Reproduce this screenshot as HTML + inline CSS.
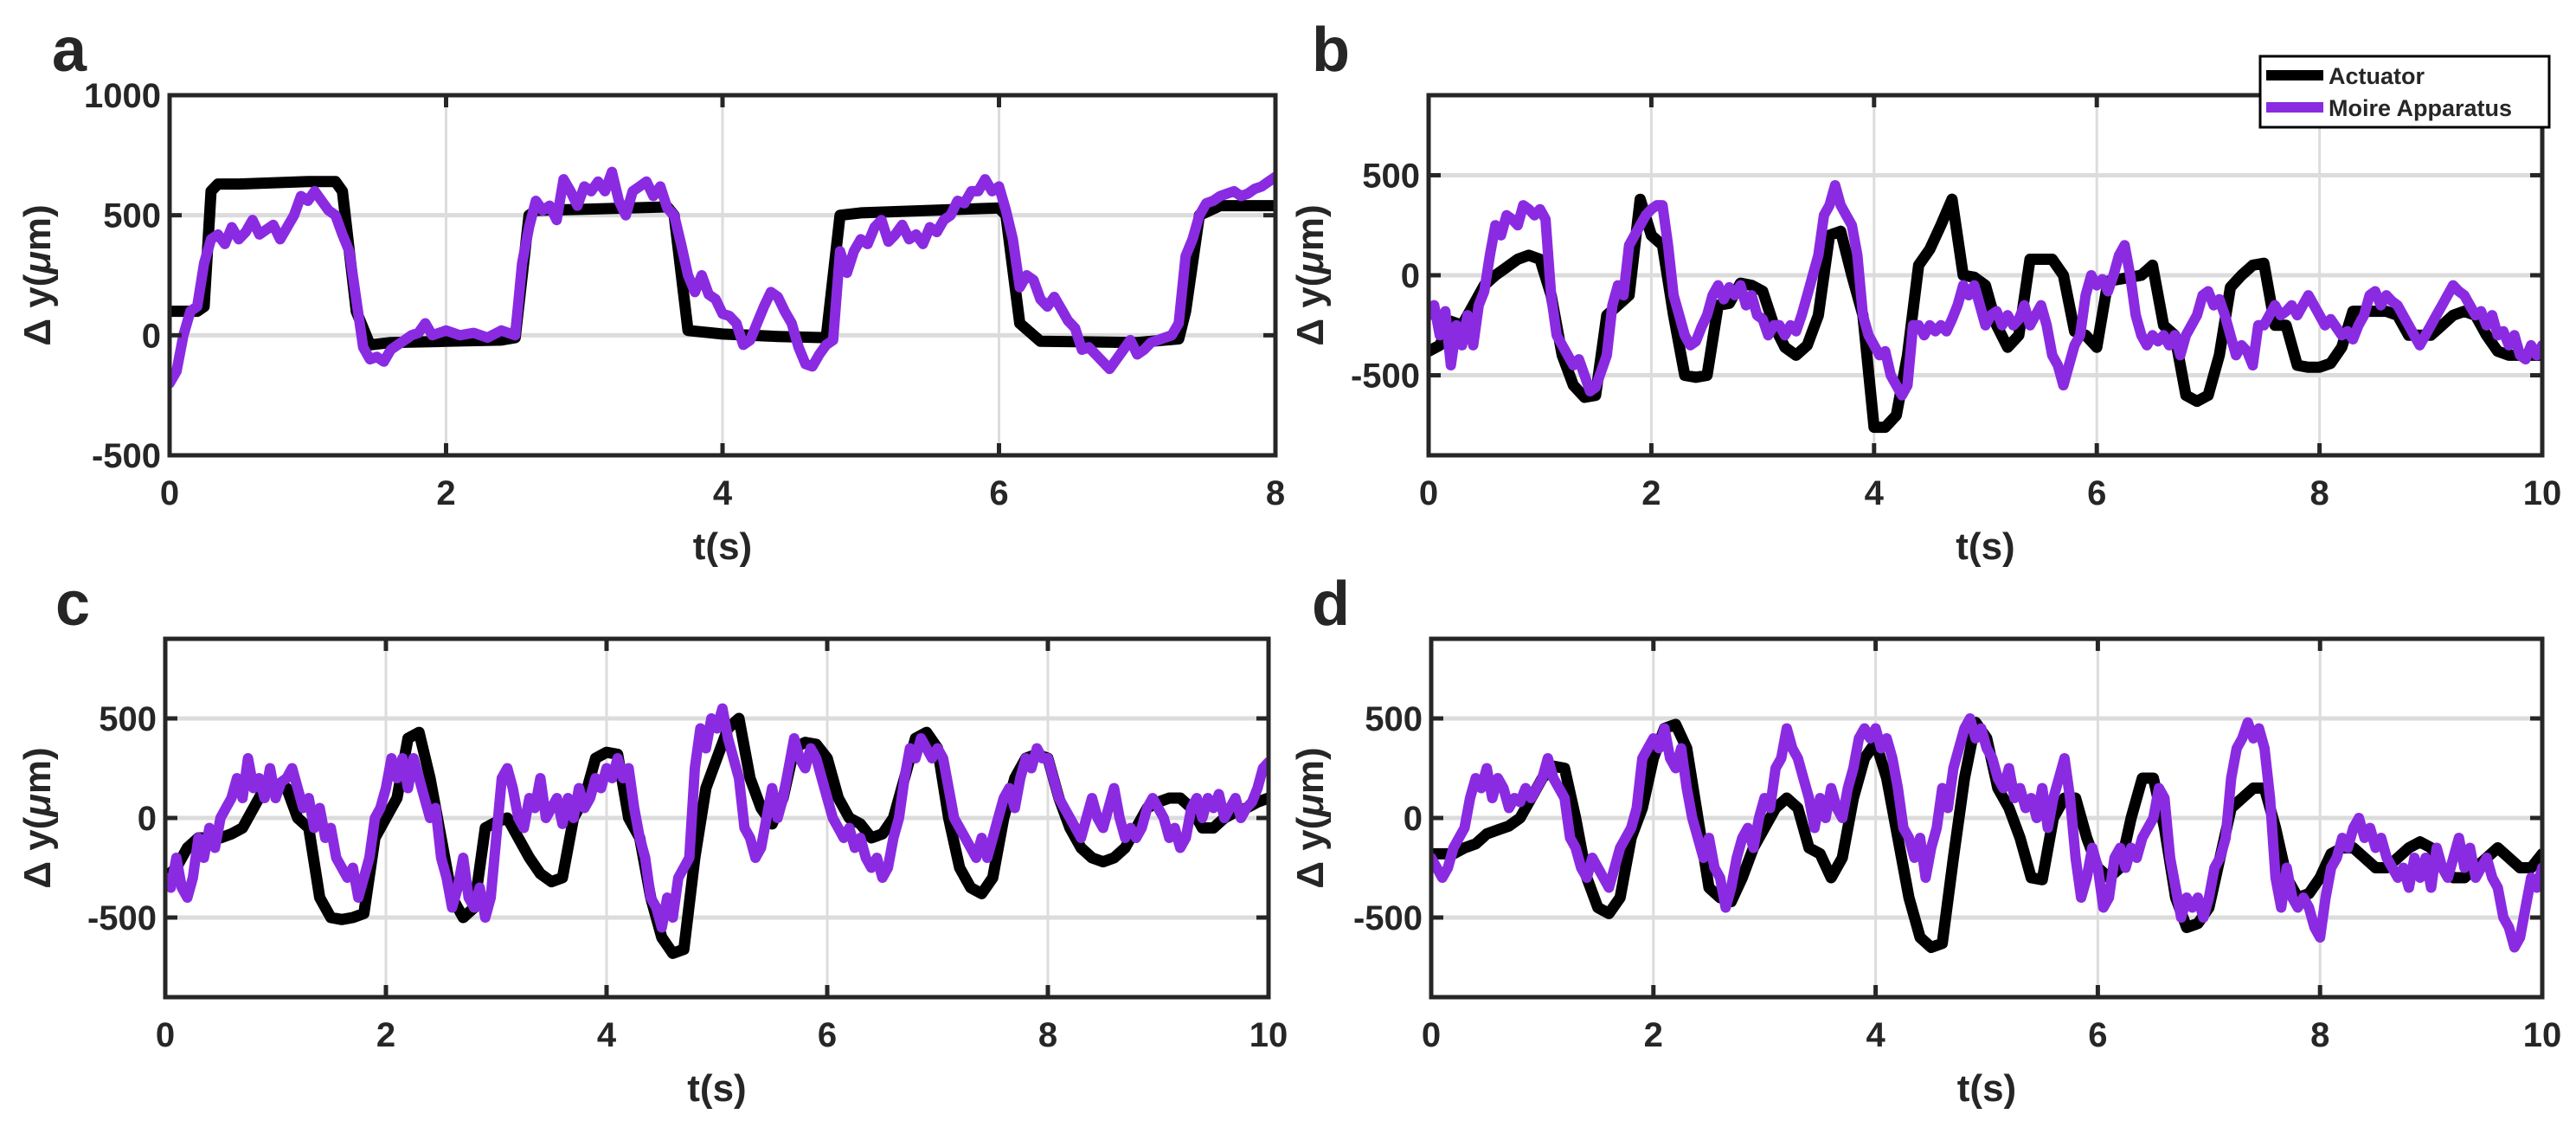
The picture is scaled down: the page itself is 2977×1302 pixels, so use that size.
<!DOCTYPE html>
<html><head><meta charset="utf-8">
<style>
html,body{margin:0;padding:0;background:#fff;}
svg{display:block;}
text{font-family:"Liberation Sans",Arial,sans-serif;font-weight:bold;fill:#262626;}
</style></head>
<body>
<svg id="fig" width="2977" height="1302" viewBox="0 0 2977 1302" xmlns="http://www.w3.org/2000/svg"></svg>
<script>
// ---------- DATA ----------
// Panel a
const aActT = [0,0.2,0.25,0.3,0.35,0.5,1.0,1.2,1.25,1.35,1.45,1.6,2.0,2.4,2.5,2.6,2.65,3.0,3.6,3.65,3.75,4.0,4.4,4.75,4.85,5.0,6.0,6.05,6.15,6.3,7.0,7.3,7.35,7.45,7.6,8.0];
const aActV = [100,100,120,600,630,630,640,640,600,100,-40,-30,-25,-20,-10,500,520,525,535,500,20,5,-5,-10,500,510,530,500,50,-25,-30,-15,100,500,540,540];
const aMoireDt = 0.05;
const aMoireV = [
-200,-150,0,100,120,300,400,420,380,450,400,430,480,420,440,460,400,450,500,580,
560,600,560,520,500,420,350,150,-50,-100,-90,-110,-60,-40,-20,0,10,50,0,10,
20,10,0,5,10,0,-10,5,20,10,0,300,450,560,520,540,480,650,600,540,
620,600,640,600,680,560,500,600,620,640,580,620,530,500,380,250,180,250,170,150,
90,80,50,-40,-20,50,120,180,160,100,50,-50,-120,-130,-80,-40,-20,350,260,350,
400,380,450,480,390,420,460,400,420,380,450,430,480,500,560,550,600,600,650,600,
620,520,400,200,250,230,150,120,160,110,60,30,-60,-50,-80,-110,-140,-100,-60,-20,
-80,-60,-30,-20,-10,0,50,330,400,500,550,560,580,590,600,580,590,610,620,640,
660];
// Panel b
const bActDt = 0.1;
const bActV = [
-380,-350,-230,-250,-150,-50,0,40,80,100,
80,-100,-400,-550,-610,-600,-200,-150,-100,380,
200,150,-200,-500,-510,-500,-150,-140,-40,-50,
-80,-250,-360,-400,-350,-200,200,220,0,-200,
-760,-760,-700,-400,50,130,250,380,0,-10,
-50,-250,-360,-300,80,80,80,0,-280,-300,
-360,-30,-20,-10,0,50,-250,-300,-600,-630,
-600,-400,-60,0,50,60,-250,-250,-450,-460,
-460,-440,-360,-180,-180,-180,-180,-200,-300,-300,
-300,-250,-200,-180,-200,-300,-380,-400,-400,-400,
-400];
const bMoireDt = 0.05;
const bMoireV = [
-200,-150,-300,-180,-450,-250,-350,-200,-350,-150,-80,100,250,200,300,280,250,350,330,300,
330,280,-100,-300,-350,-400,-450,-420,-500,-580,-560,-480,-400,-150,-50,-100,150,200,250,300,
330,350,350,150,-100,-200,-300,-350,-330,-260,-200,-100,-50,-120,-60,-100,-50,-150,-100,-200,
-220,-300,-250,-250,-300,-250,-280,-200,-100,0,100,300,350,450,350,300,250,100,-200,-300,
-350,-400,-380,-500,-550,-600,-550,-250,-250,-300,-250,-280,-250,-280,-220,-150,-50,-100,-50,-150,
-250,-200,-180,-250,-200,-250,-220,-150,-250,-200,-150,-250,-400,-450,-550,-450,-350,-300,-100,0,
-50,-20,-80,0,100,150,0,-200,-300,-350,-300,-330,-300,-350,-300,-400,-300,-250,-200,-100,
-80,-150,-120,-200,-300,-400,-350,-380,-450,-250,-250,-200,-150,-200,-180,-150,-200,-150,-100,-150,
-200,-250,-220,-260,-300,-280,-320,-250,-200,-100,-80,-150,-100,-130,-150,-200,-250,-300,-350,-300,
-250,-200,-150,-100,-50,-80,-100,-150,-200,-180,-250,-200,-300,-280,-350,-300,-400,-420,-350,-400,
-350];
// Panel c
const cActDt = 0.1;
const cActV = [
-300,-250,-150,-100,-100,-100,-80,-50,50,150,
150,150,0,-50,-400,-500,-510,-500,-480,-100,
0,100,400,430,200,-100,-400,-500,-450,-50,
-20,0,-100,-200,-280,-320,-300,0,100,300,
330,320,0,-100,-400,-600,-680,-660,-200,150,
300,450,500,200,50,-30,100,350,380,370,
300,100,0,-30,-100,-80,0,200,400,430,
350,0,-250,-350,-380,-300,0,200,300,320,
300,100,-50,-150,-200,-220,-200,-150,-50,50,
80,100,100,50,-50,-50,0,30,50,80,
100];
const cMoireDt = 0.05;
const cMoireV = [
-300,-350,-200,-350,-400,-300,-100,-200,-50,-150,0,50,100,200,100,300,150,200,100,250,
100,180,200,250,150,50,100,-50,50,-100,-50,-200,-250,-300,-250,-400,-300,-200,0,50,
150,300,200,300,150,300,200,100,0,50,-200,-300,-450,-350,-200,-400,-450,-350,-500,-400,
-100,200,250,150,0,-50,100,50,200,0,50,100,-30,100,0,150,50,100,200,150,
250,200,300,200,250,50,-100,-200,-400,-450,-550,-400,-500,-300,-250,-200,250,450,350,500,
450,550,400,300,200,-50,-100,-200,-150,0,150,0,100,250,400,300,250,350,300,200,
100,0,-50,-100,-50,-150,-100,-200,-250,-200,-300,-250,-100,0,200,350,300,400,350,300,
350,300,150,0,-50,-100,-150,-200,-100,-200,-100,0,100,150,50,200,300,250,350,300,
300,200,100,50,0,-50,-100,0,100,0,-50,50,150,0,-100,-50,-100,-50,50,100,
50,0,-100,-50,-150,-100,50,100,0,100,50,120,0,50,100,0,50,80,150,250,
280];
// Panel d
const dActDt = 0.1;
const dActV = [
-180,-180,-180,-150,-130,-80,-60,-40,0,100,
200,260,250,0,-300,-450,-480,-400,-100,50,
300,450,470,350,0,-350,-400,-420,-300,-150,
-50,50,100,50,-150,-180,-300,-200,100,300,
380,200,-100,-400,-600,-650,-630,-200,200,480,
400,150,50,-100,-300,-310,0,100,100,-100,
-250,-300,-250,0,200,200,-50,-400,-550,-530,
-450,-200,50,100,150,150,-50,-300,-400,-380,
-300,-180,-150,-150,-200,-250,-250,-200,-150,-120,
-150,-250,-300,-300,-250,-200,-150,-200,-250,-250,
-180];
const dMoireDt = 0.05;
const dMoireV = [
-200,-250,-300,-250,-150,-100,-50,100,200,150,250,100,200,150,50,100,80,150,100,150,
200,300,200,150,100,-100,-150,-250,-300,-200,-250,-300,-350,-250,-150,-100,-50,50,300,350,
400,350,450,300,250,350,150,0,-100,-200,-100,-250,-300,-450,-350,-200,-100,-50,-150,0,
100,50,250,300,450,350,300,200,100,-50,100,0,150,50,0,150,250,400,450,400,
450,350,400,300,150,-50,-100,-200,-100,-300,-150,-50,150,50,250,350,450,500,400,450,
350,300,200,150,250,100,150,50,100,0,150,-50,100,200,300,100,-200,-400,-300,-150,
-250,-450,-400,-200,-150,-250,-150,-200,-100,-50,0,150,100,-200,-350,-500,-400,-450,-400,-500,
-400,-250,-200,-100,200,350,400,480,400,450,350,100,-300,-450,-250,-400,-450,-400,-450,-550,
-600,-400,-250,-200,-100,-150,-50,0,-100,-50,-150,-100,-200,-250,-300,-250,-350,-200,-300,-200,
-350,-150,-250,-300,-200,-100,-250,-150,-300,-250,-200,-300,-350,-500,-550,-650,-600,-450,-300,-350,
-250];
// Tick labels
const aXTicks = [0,2,4,6,8];
const aYTicks = [-500,0,500,1000];
const bXTicks = [0,2,4,6,8,10];
const bYTicks = [-500,0,500];
const legendLabels = ["Actuator","Moire Apparatus"];

// ---------- DRAW ----------
const NS = "http://www.w3.org/2000/svg";
const svg = document.getElementById('fig');
function mk(tag, attrs, parent){
  const e = document.createElementNS(NS, tag);
  for (const k in attrs) e.setAttribute(k, attrs[k]);
  (parent||svg).appendChild(e);
  return e;
}
const PURPLE = "#8a2be2";

function panel(cfg){
  const g = mk('g', {});
  
  
  const {L,R,T,B,xmin,xmax,ymin,ymax} = cfg;
  const sx = v => L + (v - xmin) / (xmax - xmin) * (R - L);
  const sy = v => B - (v - ymin) / (ymax - ymin) * (B - T);
  cfg.xticks.forEach(t => {
    const l = mk('line', {x1:sx(t), x2:sx(t), y1:T, y2:B, stroke:'#dcdcdc', 'stroke-width':3}, g);
    
    
  });
  cfg.yticks.forEach(t => {
    const l = mk('line', {x1:L, x2:R, y1:sy(t), y2:sy(t), stroke:'#dcdcdc', 'stroke-width':5}, g);
    
    
  });
  const cp = mk('clipPath', {id:'clip-' + cfg.id}, g);
  mk('rect', {x:L, y:T, width:R-L, height:B-T}, cp);
  let d = '';
  cfg.actV.forEach((v,i) => {
    const t = cfg.actT ? cfg.actT[i] : i * cfg.actDt;
    d += (i ? 'L' : 'M') + sx(t).toFixed(1) + ',' + sy(v).toFixed(1);
  });
  const pa = mk('path', {d:d, fill:'none', stroke:'#000', 'stroke-width':13, 'stroke-linejoin':'round', 'stroke-linecap':'round', 'clip-path':'url(#clip-' + cfg.id + ')'}, g);
  
  
  d = '';
  cfg.moireV.forEach((v,i) => {
    const t = Math.min(i * cfg.moireDt, xmax);
    d += (i ? 'L' : 'M') + sx(t).toFixed(1) + ',' + sy(v).toFixed(1);
  });
  const pm = mk('path', {d:d, fill:'none', stroke:PURPLE, 'stroke-width':12, 'stroke-linejoin':'round', 'stroke-linecap':'round', 'clip-path':'url(#clip-' + cfg.id + ')'}, g);
  
  
  cfg.xticks.forEach(t => {
    mk('line', {x1:sx(t), x2:sx(t), y1:B, y2:B-14, stroke:'#262626', 'stroke-width':5}, g);
    mk('line', {x1:sx(t), x2:sx(t), y1:T, y2:T+14, stroke:'#262626', 'stroke-width':5}, g);
    const tx = mk('text', {x:sx(t), y:B+57, 'font-size':40, 'text-anchor':'middle'}, g);
    tx.textContent = t;
    
    
  });
  cfg.yticks.forEach(t => {
    mk('line', {x1:L, x2:L+14, y1:sy(t), y2:sy(t), stroke:'#262626', 'stroke-width':5}, g);
    mk('line', {x1:R, x2:R-14, y1:sy(t), y2:sy(t), stroke:'#262626', 'stroke-width':5}, g);
    const tx = mk('text', {x:L-10, y:sy(t)+14, 'font-size':40, 'text-anchor':'end'}, g);
    tx.textContent = t;
    
    
  });
  const fr = mk('rect', {x:L, y:T, width:R-L, height:B-T, fill:'none', stroke:'#262626', 'stroke-width':5}, g);
  
  
  const xl = mk('text', {x:(L+R)/2, y:B+120, 'font-size':44, 'text-anchor':'middle'}, g);
  xl.textContent = 't(s)';
  
  
  const cy = (T+B)/2;
  const yl = mk('text', {x:cfg.ylx, y:cy, 'font-size':44, 'text-anchor':'middle', transform:'rotate(-90 ' + cfg.ylx + ' ' + cy + ')'}, g);
  yl.innerHTML = '&#916; y(<tspan font-style="italic">&#956;</tspan>m)';
  
  
  const pl = mk('text', {x:cfg.lx, y:cfg.ly, 'font-size':72, fill:'#000'}, g);
  pl.textContent = cfg.id;
  
  
}

panel({id:'a', L:196, R:1474, T:110, B:526, xmin:0, xmax:8, ymin:-500, ymax:1000,
  xticks:aXTicks, yticks:aYTicks, actT:aActT, actV:aActV, moireV:aMoireV, moireDt:aMoireDt, ylx:58, lx:60, ly:82});
panel({id:'b', L:1651, R:2938, T:110, B:526, xmin:0, xmax:10, ymin:-900, ymax:900,
  xticks:bXTicks, yticks:bYTicks, actV:bActV, actDt:bActDt, moireV:bMoireV, moireDt:bMoireDt, ylx:1529, lx:1516, ly:82});
panel({id:'c', L:191, R:1466, T:738, B:1152, xmin:0, xmax:10, ymin:-900, ymax:900,
  xticks:bXTicks, yticks:bYTicks, actV:cActV, actDt:cActDt, moireV:cMoireV, moireDt:cMoireDt, ylx:58, lx:64, ly:722});
panel({id:'d', L:1654, R:2938, T:738, B:1152, xmin:0, xmax:10, ymin:-900, ymax:900,
  xticks:bXTicks, yticks:bYTicks, actV:dActV, actDt:dActDt, moireV:dMoireV, moireDt:dMoireDt, ylx:1529, lx:1516, ly:722});

const lg = mk('g', {});


mk('rect', {x:2612, y:65, width:334, height:82, fill:'#fff', stroke:'#000', 'stroke-width':3}, lg);
const legColors = ['#000', PURPLE];
const legY = [87, 124];
legendLabels.forEach((lab, i) => {
  const ln = mk('line', {x1:2619, x2:2685, y1:legY[i], y2:legY[i], stroke:legColors[i], 'stroke-width':12}, lg);
  
  
  const t = mk('text', {x:2691, y:legY[i]+10, 'font-size':27, fill:'#000'}, lg);
  t.textContent = lab;
  
  
});
</script>
</body></html>
